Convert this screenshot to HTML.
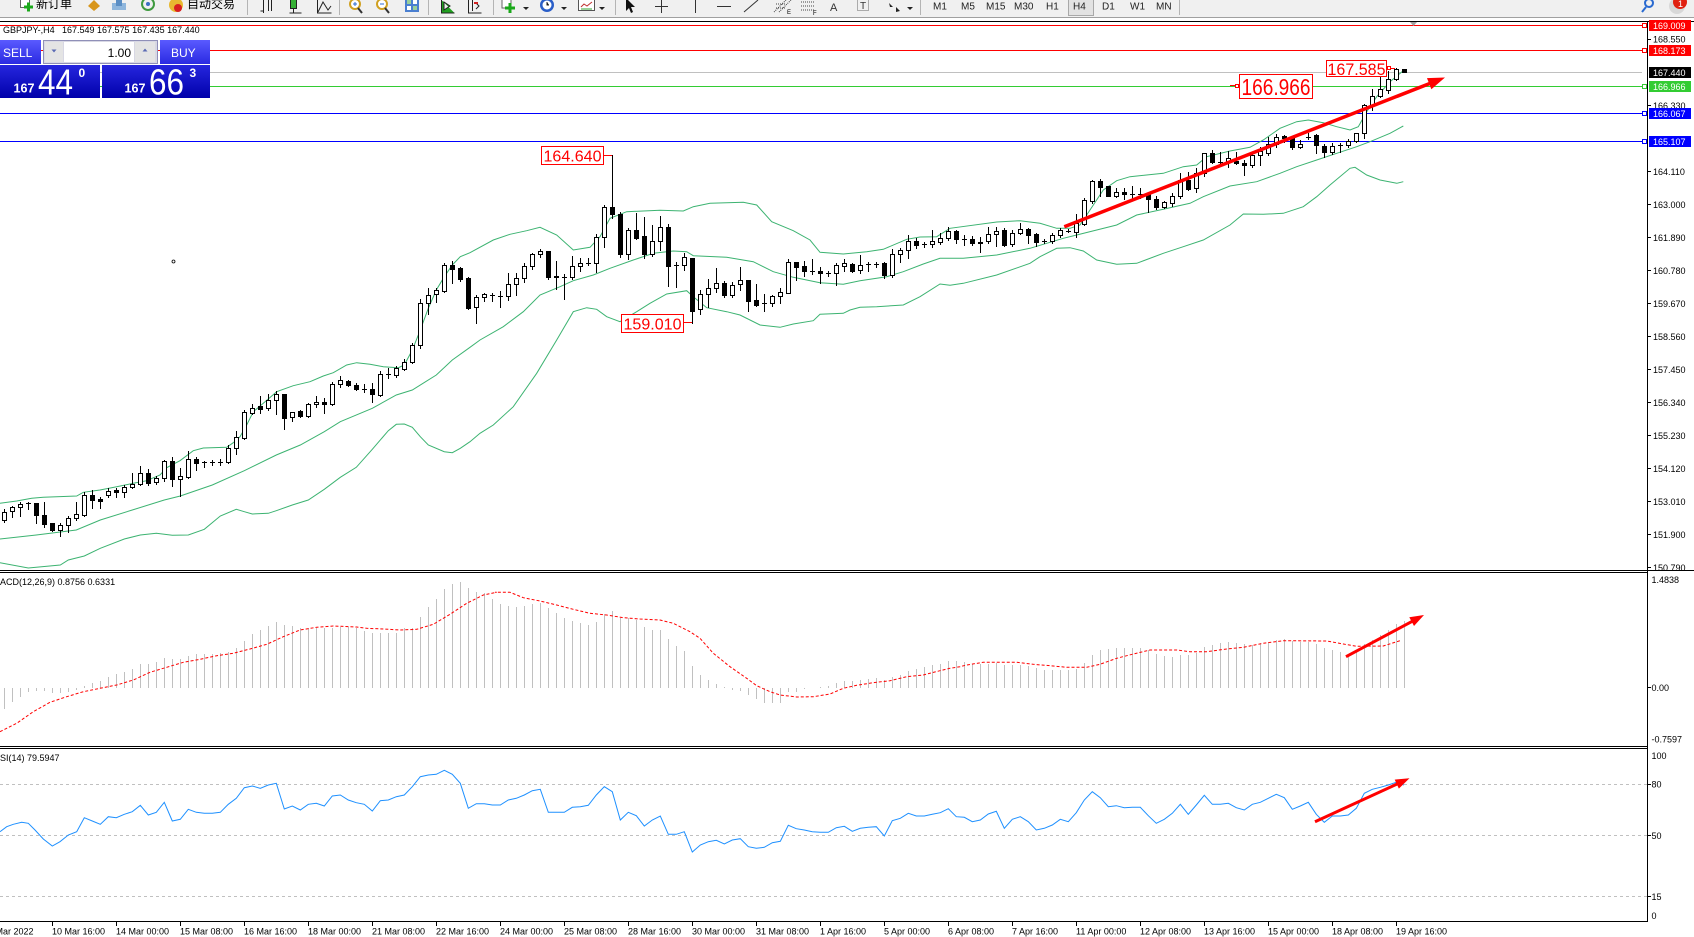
<!DOCTYPE html>
<html><head><meta charset="utf-8">
<style>
html,body{margin:0;padding:0;background:#fff;width:1694px;height:937px;overflow:hidden}
svg{display:block}
text{font-family:"Liberation Sans","Noto Sans CJK SC",sans-serif}
</style></head><body>
<svg id="c" width="1694" height="937" viewBox="0 0 1694 937" xmlns="http://www.w3.org/2000/svg">
<defs>
 <linearGradient id="gb" x1="0" y1="0" x2="0" y2="1"><stop offset="0" stop-color="#5a5aff"/><stop offset="1" stop-color="#2a2ae2"/></linearGradient>
 <linearGradient id="gp" x1="0" y1="0" x2="0" y2="1"><stop offset="0" stop-color="#2626de"/><stop offset="1" stop-color="#0000aa"/></linearGradient>
 <clipPath id="cm"><rect x="0" y="22" width="1647" height="548"/></clipPath>
 <clipPath id="cd"><rect x="0" y="573" width="1647" height="173"/></clipPath>
 <clipPath id="cr"><rect x="0" y="749" width="1647" height="172"/></clipPath>
</defs>
<rect x="0" y="0" width="1694" height="937" fill="#fff"/>

<!-- toolbar -->
<rect x="0" y="0" width="1694" height="17" fill="#f0f0f0"/>
<rect x="0" y="17" width="1694" height="1" fill="#a0a0a0"/>
<g stroke="#b4b4b4" stroke-width="1">
 <line x1="247.5" y1="0" x2="247.5" y2="15"/><line x1="339.5" y1="0" x2="339.5" y2="15"/>
 <line x1="428.5" y1="0" x2="428.5" y2="15"/><line x1="493.5" y1="0" x2="493.5" y2="15"/>
 <line x1="615.5" y1="0" x2="615.5" y2="15"/><line x1="920.5" y1="0" x2="920.5" y2="15"/>
 <line x1="1179.5" y1="0" x2="1179.5" y2="15"/>
</g>
<rect x="20.5" y="-3.5" width="9" height="11" fill="#fff" stroke="#666"/>
<path d="M24 7h9M28.5 2.5v9" stroke="#1aa81a" stroke-width="3"/>
<text x="36" y="8" font-size="12" fill="#000">新订单</text>
<path d="M88 6 l6 -6 l6 6 l-6 5z" fill="#d8961c"/>
<path d="M112 3 h14 v7 h-14z" fill="#8fb6dc"/><rect x="116" y="-2" width="6" height="8" fill="#5b8ec4"/>
<circle cx="148" cy="4" r="6" fill="none" stroke="#3f9a3f" stroke-width="2"/><circle cx="148" cy="4" r="2" fill="#3a6fc4"/>
<circle cx="176" cy="5" r="7" fill="#e8b830"/><circle cx="178" cy="8" r="4" fill="#d82020"/>
<text x="187" y="8" font-size="12" fill="#000">自动交易</text>
<g stroke="#222" stroke-width="1" fill="none">
 <path d="M263.5 0v13M268.5 0v11M271.5 0v11M260.5 11h3"/>
 <rect x="290.5" y="-2.5" width="6" height="11" fill="#35b035" stroke="#222"/><path d="M293.5 9v4M289.5 13h12"/>
 <path d="M318 12 l5 -10 l5 8 l3 -4"/><path d="M317.5 0v13h14"/>
</g>
<circle cx="355" cy="4" r="5" fill="#fff" stroke="#d0a020" stroke-width="2"/><path d="M358 8l4 5" stroke="#333" stroke-width="2"/><path d="M353 4h4M355 2v4" stroke="#2a6ad0"/>
<circle cx="382" cy="4" r="5" fill="#fff" stroke="#d0a020" stroke-width="2"/><path d="M385 8l4 5" stroke="#333" stroke-width="2"/><path d="M380 4h4" stroke="#2a6ad0"/>
<rect x="405" y="-2" width="14" height="14" fill="#4a7fd0"/><rect x="407" y="0" width="4" height="4" fill="#9ad09a"/><rect x="413" y="0" width="4" height="4" fill="#fff"/><rect x="407" y="6" width="4" height="4" fill="#fff"/><rect x="413" y="6" width="4" height="4" fill="#9ad09a"/>
<path d="M441.5 0v13h13M444 2l6 4l-6 4z" stroke="#222" fill="#20a020"/>
<path d="M468.5 0v13h13M472.5 0v11M476 3l3 3l-3 3" stroke="#222" fill="none"/><path d="M474 3h4" stroke="#d02020" stroke-width="2"/>
<rect x="502" y="-2" width="9" height="10" fill="#fff" stroke="#666"/><path d="M505 8h10M510 3v10" stroke="#1aa81a" stroke-width="3"/><path d="M523 7l3 3l3 -3z" fill="#222"/>
<circle cx="547" cy="5" r="7" fill="#2a5ec8"/><circle cx="547" cy="5" r="4.5" fill="#fff"/><path d="M547 2v3h2" stroke="#222"/><path d="M561 7l3 3l3 -3z" fill="#222"/>
<rect x="578.5" y="-2.5" width="16" height="13" fill="#fff" stroke="#555"/><path d="M581 7l3 -3l3 2l5 -4" stroke="#c03030" fill="none"/><path d="M581 9h11" stroke="#30a030"/><path d="M599 7l3 3l3 -3z" fill="#222"/>
<path d="M626 -2 v13 l3 -3 l2 5 l2 -1 l-2 -5 h4z" fill="#111"/>
<path d="M661.5 0v13M655 6.5h13" stroke="#333"/>
<path d="M695.5 0v13" stroke="#333"/>
<path d="M717 6.5h14" stroke="#333"/>
<path d="M744 12l14 -12" stroke="#333"/>
<path d="M774 12l12 -12M779 12l12 -12M776 4h10M776 8h10" stroke="#444" stroke-dasharray="1 1"/><text x="787" y="14" font-size="6">E</text>
<path d="M801 2h14M801 6h14M801 10h14" stroke="#444" stroke-dasharray="1 1"/><text x="813" y="15" font-size="6">F</text>
<text x="830" y="11" font-size="11" fill="#333">A</text>
<rect x="857.5" y="-1.5" width="11" height="12" fill="none" stroke="#666" stroke-dasharray="1 1"/><text x="860" y="9" font-size="10" fill="#333">T</text>
<path d="M889 3l4 4l-3 0zM896 7l4 4l-4 1z" fill="#222"/><path d="M907 7l3 3l3 -3z" fill="#222"/>
<g font-size="10" fill="#222">
 <rect x="1068.5" y="-0.5" width="25" height="16" fill="#e2e2e2" stroke="#a8a8a8"/>
 <text x="933" y="9.5">M1</text><text x="961" y="9.5">M5</text><text x="986" y="9.5">M15</text><text x="1014" y="9.5">M30</text>
 <text x="1046" y="9.5">H1</text><text x="1073" y="9.5">H4</text><text x="1102" y="9.5">D1</text><text x="1130" y="9.5">W1</text><text x="1156" y="9.5">MN</text>
</g>
<circle cx="1649" cy="3" r="4" fill="none" stroke="#2a6ad0" stroke-width="2"/><path d="M1646 7l-4 5" stroke="#2a6ad0" stroke-width="2"/>
<circle cx="1677" cy="6" r="8" fill="#d8d8d8"/><circle cx="1680" cy="2" r="7" fill="#e02010"/><text x="1678" y="7" font-size="9" fill="#fff">1</text>

<!-- frames -->
<rect x="0" y="21" width="1694" height="1" fill="#000"/>

<!-- main chart -->
<g clip-path="url(#cm)">
 <rect x="0" y="25" width="1642" height="1" fill="#ff0000"/>
 <rect x="0" y="50" width="1642" height="1" fill="#ff0000"/>
 <rect x="0" y="72" width="1642" height="1" fill="#c0c0c0"/>
 <rect x="0" y="86" width="1642" height="1" fill="#33cc33"/>
 <rect x="0" y="113" width="1642" height="1" fill="#0000ff"/>
 <rect x="0" y="141" width="1642" height="1" fill="#0000ff"/>
 <g fill="#fff">
  <rect x="1642.5" y="23.5" width="4" height="4" stroke="#ff0000"/>
  <rect x="1642.5" y="48.5" width="4" height="4" stroke="#ff0000"/>
  <rect x="1642.5" y="84.5" width="4" height="4" stroke="#33cc33"/>
  <rect x="1642.5" y="111.5" width="4" height="4" stroke="#0000ff"/>
  <rect x="1642.5" y="139.5" width="4" height="4" stroke="#0000ff"/>
 </g>
 <path d="M1410 22h7l-3.5 4z" fill="#a0a0a0"/>
 <g id="bands" fill="none" stroke="#3cb371" stroke-width="1"></g>
 <g id="cand" shape-rendering="crispEdges"></g>
 <circle cx="173.5" cy="261.5" r="1.5" fill="#fff" stroke="#000" stroke-width="0.8"/>
 <!-- annotations -->
 <g stroke="#ff0000" fill="none">
  <path d="M603 155.5h9"/><path d="M683 322.5h9"/>
  <path d="M1230 85.5h9"/><rect x="1235.5" y="84.5" width="3" height="3" fill="#fff"/>
  <path d="M1387 68.5h8"/><rect x="1387.5" y="66.5" width="3" height="3" fill="#fff"/>
 </g>
 <rect x="541.5" y="146.5" width="62" height="18" fill="#fff" stroke="#ff0000"/>
 <text x="543.5" y="161.5" font-size="16" fill="#ff0000" textLength="58" lengthAdjust="spacingAndGlyphs">164.640</text>
 <rect x="621.5" y="314.5" width="62" height="18" fill="#fff" stroke="#ff0000"/>
 <text x="623.5" y="329.5" font-size="16" fill="#ff0000" textLength="58" lengthAdjust="spacingAndGlyphs">159.010</text>
 <rect x="1239.5" y="74.5" width="73" height="24" fill="#fff" stroke="#ff0000"/>
 <text x="1241.5" y="95" font-size="23" fill="#ff0000" textLength="69" lengthAdjust="spacingAndGlyphs">166.966</text>
 <rect x="1326.5" y="60.5" width="60" height="16" fill="#fff" stroke="#ff0000"/>
 <text x="1327.5" y="75" font-size="17" fill="#ff0000" textLength="58" lengthAdjust="spacingAndGlyphs">167.585</text>
 <g id="arr1"></g>
</g>

<!-- one click panel -->
<g>
 <rect x="0" y="40" width="41" height="24" fill="url(#gb)"/>
 <rect x="43.5" y="40.5" width="114" height="23" fill="#d8d8e4" stroke="#9090b8"/>
 <rect x="64" y="42" width="70" height="20" fill="#fff"/>
 <rect x="45" y="42" width="18" height="20" fill="#e4e4e4"/>
 <rect x="135" y="42" width="20" height="20" fill="#e4e4e4"/>
 <path d="M51.5 49.5h5l-2.5 3z" fill="#5a6ab4"/><path d="M142.5 51.5h5l-2.5 -3z" fill="#5a6ab4"/>
 <rect x="160" y="40" width="50" height="24" fill="url(#gb)"/>
 <rect x="0" y="65" width="100" height="33" fill="url(#gp)"/>
 <rect x="102" y="65" width="108" height="33" fill="url(#gp)"/>
 <text x="3" y="57" font-size="12" fill="#fff">SELL</text>
 <text x="171" y="57" font-size="12" fill="#fff">BUY</text>
 <text x="131" y="57" font-size="12" fill="#000" text-anchor="end">1.00</text>
 <text x="13.5" y="92.5" font-size="13" font-weight="bold" fill="#fff" textLength="21" lengthAdjust="spacingAndGlyphs">167</text>
 <text x="38" y="94.3" font-size="36" fill="#fff" textLength="35" lengthAdjust="spacingAndGlyphs">44</text>
 <text x="78.5" y="77" font-size="12" font-weight="bold" fill="#fff">0</text>
 <text x="124.5" y="92.5" font-size="13" font-weight="bold" fill="#fff" textLength="21" lengthAdjust="spacingAndGlyphs">167</text>
 <text x="149" y="94.3" font-size="36" fill="#fff" textLength="35" lengthAdjust="spacingAndGlyphs">66</text>
 <text x="189.5" y="77" font-size="12" font-weight="bold" fill="#fff">3</text>
</g>
<text x="3" y="33" font-size="9" fill="#000">GBPJPY-,H4</text>
<text x="62" y="33" font-size="9" fill="#000">167.549 167.575 167.435 167.440</text>

<!-- panel frames -->
<rect x="0" y="570" width="1694" height="1" fill="#000"/>
<rect x="0" y="572" width="1647" height="1" fill="#000"/>
<rect x="0" y="746" width="1647" height="1" fill="#000"/>
<rect x="0" y="748" width="1647" height="1" fill="#000"/>
<rect x="0" y="921" width="1648" height="1" fill="#000"/>
<rect x="1647" y="21" width="1" height="901" fill="#000"/>

<!-- MACD -->
<g clip-path="url(#cd)">
 <g id="hist" shape-rendering="crispEdges"></g>
 <g id="sig" fill="none" stroke="#ff0000" stroke-width="1" stroke-dasharray="3 2"></g>
 <g id="arr2"></g>
</g>
<text x="-7.5" y="585" font-size="9" fill="#000">MACD(12,26,9) 0.8756 0.6331</text>

<!-- RSI -->
<g clip-path="url(#cr)">
 <g stroke="#c0c0c0" stroke-dasharray="3 3">
  <line x1="0" y1="784.5" x2="1647" y2="784.5"/>
  <line x1="0" y1="835.5" x2="1647" y2="835.5"/>
  <line x1="0" y1="896.5" x2="1647" y2="896.5"/>
 </g>
 <g id="rsi" fill="none" stroke="#1e90ff" stroke-width="1"></g>
 <g id="arr3"></g>
</g>
<text x="-6.5" y="761" font-size="9" fill="#000">RSI(14) 79.5947</text>

<!-- price axis -->
<g stroke="#000" shape-rendering="crispEdges">
 <path d="M1647 39.5h4M1647 105.5h4M1647 171.5h4M1647 204.5h4M1647 237.5h4M1647 270.5h4M1647 303.5h4M1647 336.5h4M1647 369.5h4M1647 402.5h4M1647 435.5h4M1647 468.5h4M1647 501.5h4M1647 534.5h4M1647 567.5h4"/>
 <path d="M1647 687.5h4M1647 784.5h4M1647 835.5h4M1647 896.5h4"/>
</g>
<g font-size="9" fill="#000">
 <text x="1653" y="42.5">168.550</text>
 <text x="1653" y="109">166.330</text>
 <text x="1653" y="175">164.110</text>
 <text x="1653" y="208">163.000</text>
 <text x="1653" y="241">161.890</text>
 <text x="1653" y="274">160.780</text>
 <text x="1653" y="307">159.670</text>
 <text x="1653" y="340">158.560</text>
 <text x="1653" y="373">157.450</text>
 <text x="1653" y="406">156.340</text>
 <text x="1653" y="439">155.230</text>
 <text x="1653" y="472">154.120</text>
 <text x="1653" y="505">153.010</text>
 <text x="1653" y="538">151.900</text>
 <text x="1653" y="571">150.790</text>
 <text x="1651.5" y="583">1.4838</text>
 <text x="1651.5" y="691">0.00</text>
 <text x="1651.5" y="742.5">-0.7597</text>
 <text x="1651.5" y="759">100</text>
 <text x="1651.5" y="787.5">80</text>
 <text x="1651.5" y="839">50</text>
 <text x="1651.5" y="900">15</text>
 <text x="1651.5" y="919">0</text>
</g>
<rect x="1649" y="20" width="42" height="11" fill="#ff0000"/>
<rect x="1649" y="45" width="42" height="11" fill="#ff0000"/>
<rect x="1649" y="67" width="42" height="11" fill="#000"/>
<rect x="1649" y="81" width="42" height="11" fill="#33cc33"/>
<rect x="1649" y="108" width="42" height="11" fill="#0000ff"/>
<rect x="1649" y="136" width="42" height="11" fill="#0000ff"/>
<g font-size="9" fill="#fff">
 <text x="1653" y="29">169.009</text>
 <text x="1653" y="54">168.173</text>
 <text x="1653" y="76">167.440</text>
 <text x="1653" y="90">166.966</text>
 <text x="1653" y="117">166.067</text>
 <text x="1653" y="145">165.107</text>
</g>

<!-- time axis -->
<g stroke="#000" shape-rendering="crispEdges">
 <path d="M52.5 922v4M116.5 922v4M180.5 922v4M244.5 922v4M308.5 922v4M372.5 922v4M436.5 922v4M500.5 922v4M564.5 922v4M628.5 922v4M692.5 922v4M756.5 922v4M820.5 922v4M884.5 922v4M948.5 922v4M1012.5 922v4M1076.5 922v4M1140.5 922v4M1204.5 922v4M1268.5 922v4M1332.5 922v4M1396.5 922v4"/>
</g>
<g font-size="9" fill="#000">
 <text x="-12" y="934.3">9 Mar 2022</text>
 <text x="52" y="934.3">10 Mar 16:00</text>
 <text x="116" y="934.3">14 Mar 00:00</text>
 <text x="180" y="934.3">15 Mar 08:00</text>
 <text x="244" y="934.3">16 Mar 16:00</text>
 <text x="308" y="934.3">18 Mar 00:00</text>
 <text x="372" y="934.3">21 Mar 08:00</text>
 <text x="436" y="934.3">22 Mar 16:00</text>
 <text x="500" y="934.3">24 Mar 00:00</text>
 <text x="564" y="934.3">25 Mar 08:00</text>
 <text x="628" y="934.3">28 Mar 16:00</text>
 <text x="692" y="934.3">30 Mar 00:00</text>
 <text x="756" y="934.3">31 Mar 08:00</text>
 <text x="820" y="934.3">1 Apr 16:00</text>
 <text x="884" y="934.3">5 Apr 00:00</text>
 <text x="948" y="934.3">6 Apr 08:00</text>
 <text x="1012" y="934.3">7 Apr 16:00</text>
 <text x="1076" y="934.3">11 Apr 00:00</text>
 <text x="1140" y="934.3">12 Apr 08:00</text>
 <text x="1204" y="934.3">13 Apr 16:00</text>
 <text x="1268" y="934.3">15 Apr 00:00</text>
 <text x="1332" y="934.3">18 Apr 08:00</text>
 <text x="1396" y="934.3">19 Apr 16:00</text>
</g>
</svg>
<script>
(function(){
var NS='http://www.w3.org/2000/svg';
function el(tag,a,p){var e=document.createElementNS(NS,tag);for(var k in a)e.setAttribute(k,a[k]);p.appendChild(e);return e;}
function R(p,x,y,w,h,f){el('rect',{x:x,y:y,width:w,height:h,fill:f},p);}
var G=function(id){return document.getElementById(id);};
var segs=[
{y0:240,s:0,d:[
['u',808,815,840,847],['u',797,802,814,830],['u',785,791,802,827],['x',785,790,790,806],['d',790,790,824,848],
['d',786,826,851,862],['d',850,850,869,874],['u',850,856,870,887],['u',828,834,856,875],['u',786,823,835,841],
['u',757,766,825,828],['d',751,766,779,803],['d',770,776,784,803],['u',744,754,766,770],['d',743,750,757,770],
['u',735,741,756,770],['u',699,733,742,744],['u',679,700,733,735],['d',686,700,728,735],['u',708,714,727,731],
['u',659,663,715,722],['d',652,663,718,737],['u',684,709,718,768],['u',634,658,710,714],['d',651,657,668,689],
['x',663,665,665,680],['x',660,667,667,675],['x',656,666,666,676],['u',615,625,667,670],['u',573,592,625,641],
['u',511,517,594,596],['u',493,503,518,522],['d',467,498,507,519],['u',462,481,505,509],['u',454,463,481,522],
['d',463,463,533,567],['u',515,515,532,543],['d',510,513,527,532],['u',490,493,527,530],['u',467,487,493,500],
['d',473,486,493,519],['u',425,433,493,495],['u',408,421,433,440],['d',420,422,434,437],['d',429,434,446,450],
['x',433,447,447,455],['d',430,448,463,485],['u',393,403,464,467],['x',385,402,402,415],['u',379,384,404,410],
['u',357,367,388,390],['u',310,314,367,369],['u',178,189,314,323],['u',145,164,190,222],['u',145,151,163,186],
['u',70,76,152,155],['d',62,75,86,128],['d',80,85,116,122],['d',110,115,204,207]]},
{y0:140,s:59,d:[
['u',465,472,502,548],['u',458,462,470,483],['x',460,464,464,482],['x',452,467,467,500],['u',400,433,468,480],
['u',398,414,433,465],['u',370,378,414,425],['u',338,343,379,386],['u',327,333,343,352],['d',333,333,410,418],
['d',363,408,412,448],['x',403,411,411,476],['u',349,379,412,418],['u',355,369,379,392],['x',355,368,368,375],
['u',283,291,368,395],['u',195,202,292,320],['d',46,201,222,235],['d',215,222,342,350],['u',265,270,342,356],
['d',219,270,293,297],['d',231,289,343,353],['u',256,304,343,347],['u',229,262,304,329],['d',252,262,377,437],
['x',365,375,375,440],['u',340,352,376,390],['d',355,355,512,548],['u',450,463,508,522],['u',418,445,463,500],
['u',383,430,445,455],['d',424,428,465,470],['u',425,436,465,470],['u',382,421,433,449],['d',421,421,483,512],
['d',433,481,494,497],['x',462,490,490,512],['u',465,467,490,497],['u',445,457,469,488],['u',356,367,458,460],
['d',365,367,380,420],['d',362,378,392,407],['x',358,393,393,402],['d',382,393,400,430],['x',393,399,399,407],
['u',369,376,400,436],['u',356,370,377,392],['d',370,372,392,396],['u',345,376,391,400],['x',367,373,373,393],
['x',366,372,372,380],['d',365,369,404,415],['u',327,343,405,410],['u',325,331,342,367],['u',286,303,331,353],
['d',293,303,314,325],['x',306,311,311,322],['u',270,304,311,320]]},
{y0:50,s:117,d:[
['u',550,565,575,583],['u',532,543,565,570],['d',540,543,568,580],['x',555,567,567,585],['d',558,568,580,584],
['u',562,575,580,606],['u',530,553,572,580],['u',530,542,552,588],['d',535,540,584,587],['u',540,549,583,587],
['u',520,538,549,552],['d',535,537,555,580],['d',550,553,575,588],['x',568,573,573,578],['u',550,556,572,578],
['u',533,540,556,562],['x',538,542,542,546],['u',492,520,545,560],['u',445,451,521,524],['u',390,394,452,460],
['d',386,394,410,437],['d',407,409,437,437],['u',415,426,437,440],['d',414,427,431,447],['x',408,432,432,445],
['x',413,431,431,444],['d',427,430,447,485],['d',437,448,470,477],['u',453,457,470,473],['u',428,437,458,467],
['u',370,390,437,445],['d',365,390,416,420],['u',355,368,413,427],['u',308,310,369,377],['d',300,310,335,340],
['x',305,335,335,340],['u',302,325,335,352],['d',305,333,340,342],['d',330,340,345,375],['u',310,316,346,350],
['u',290,302,316,345],['u',262,282,310,315],['u',252,260,283,292],['d',256,259,265,275],['d',258,265,292,296],
['u',271,281,291,293],['x',250,260,260,268],['d',252,256,285,308],['d',282,287,307,320],['u',280,287,307,312],
['x',280,286,286,305],['u',266,273,285,292],['u',248,250,272,276],['u',162,166,250,263],['u',117,137,166,180],
['u',70,118,137,140],['u',62,88,120,128],['u',53,58,88,90],['d',57,58,66,67]]}
];
var cg=G('cand');
segs.forEach(function(sg){
 sg.d.forEach(function(c,k){
  var i=sg.s+k,px=4+8*i;
  var f=function(v){return Math.round(sg.y0+v/3);};
  var hi=f(c[1]),bt=f(c[2]),bb=f(c[3]),lo=f(c[4]);
  R(cg,px,hi,1,Math.max(1,lo-hi+1),'#000');
  if(c[0]==='u'){R(cg,px-2,bt,5,Math.max(1,bb-bt+1),'#000');if(bb-bt-1>0)R(cg,px-1,bt+1,3,bb-bt-1,'#fff');}
  else if(c[0]==='d'){R(cg,px-2,bt,5,Math.max(1,bb-bt+1),'#000');}
  else{R(cg,px-2,bt,5,1,'#000');}
 });
});
function poly(parent,parts,extra){
 var pts=[];
 parts.forEach(function(p){p.p.forEach(function(q){pts.push((p.x0+q[0]/3).toFixed(1)+','+(p.y0+q[1]/3).toFixed(1));});});
 var a={points:pts.join(' ')};if(extra)for(var k in extra)a[k]=extra[k];
 el('polyline',a,parent);
}
var bg=G('bands');
poly(bg,[
{x0:0,y0:240,p:[[0,790],[50,783],[95,775],[130,772],[230,768],[250,757],[300,750],[350,740],[400,730],[440,722],[480,705],[500,683],[540,662],[580,632],[610,624],[680,622],[700,608],[720,590],[740,555],[760,515],[790,490],[830,455],[880,437],[930,425],[970,408],[1000,398],[1040,375],[1070,368],[1110,373],[1150,380],[1195,383],[1213,375],[1237,330],[1261,270],[1285,205],[1309,150],[1333,110],[1357,75],[1381,50],[1410,38]]},
{x0:460,y0:140,p:[[30,338],[100,300],[150,283],[200,272],[240,262],[290,285],[340,330],[390,322],[420,290],[450,235],[500,215],[600,211],[670,213],[700,200],[750,190],[850,187],[890,195],[935,245],[1000,272],[1050,300],[1080,337],[1150,342],[1220,335],[1270,328],[1340,298],[1380,291],[1430,290]]},
{x0:930,y0:50,p:[[60,535],[200,516],[270,512],[330,520],[380,535],[420,535],[450,525],[480,480],[520,420],[560,392],[600,380],[700,370],[760,350],[800,345],[830,320],[900,303],[960,292],[1000,270],[1050,235],[1100,215],[1135,210],[1180,218],[1220,230],[1260,240],[1285,230],[1310,185],[1340,140],[1380,95],[1420,62]]}
]);
poly(bg,[
{x0:0,y0:240,p:[[0,897],[109,885],[229,870],[301,840],[397,810],[493,780],[541,768],[637,735],[733,692],[829,645],[901,615],[973,575],[1021,545],[1117,505],[1189,465],[1237,450],[1309,405],[1357,360],[1410,322]]},
{x0:460,y0:140,p:[[60,600],[130,560],[190,515],[240,465],[300,440],[340,422],[400,405],[450,385],[520,360],[580,340],[640,333],[680,335],[700,347],[800,352],[880,365],[940,395],[1000,412],[1080,428],[1150,433],[1200,422],[1280,410],[1330,395],[1390,372],[1440,355]]},
{x0:930,y0:50,p:[[100,625],[200,615],[300,595],[400,565],[440,555],[500,540],[560,525],[620,495],[700,478],[780,460],[820,440],[900,408],[980,395],[1050,370],[1100,350],[1160,330],[1220,310],[1280,290],[1320,275],[1380,250],[1420,228]]}
]);
poly(bg,[
{x0:0,y0:240,p:[[0,968],[85,984],[181,975],[205,960],[253,948],[301,925],[373,897],[421,885],[469,880],[517,886],[565,885],[613,868],[661,828],[709,808],[733,815],[757,822],[805,820],[829,812],[877,795],[925,780],[973,748],[1021,712],[1069,682],[1117,628],[1165,572],[1189,553],[1213,552],[1237,562],[1261,590],[1285,615],[1333,635],[1357,638],[1381,625],[1410,605]]},
{x0:460,y0:140,p:[[60,880],[100,855],[160,800],[230,700],[290,600],[340,515],[380,503],[410,508],[440,530],[480,545],[530,515],[570,490],[620,462],[680,452],[700,470],[740,503],[800,515],[840,525],[900,555],[960,562],[1000,552],[1060,542],[1080,523],[1150,520],[1170,510],[1200,502],[1250,500],[1330,495],[1380,470],[1440,432]]},
{x0:930,y0:50,p:[[60,706],[100,700],[200,675],[300,640],[330,620],[380,595],[420,593],[460,603],[500,630],[560,643],[620,640],[700,610],[760,590],[820,570],[900,525],[940,492],[1000,493],[1060,490],[1120,470],[1160,440],[1200,405],[1260,355],[1275,352],[1310,375],[1350,390],[1400,400],[1420,395]]}
]);
// MACD histogram
var hg=G('hist'),Z=688;
var H=[
{y0:565,s:0,v:[432,410,395,381,378,378,383,385,380,375,362,355,347,336,326,320,312,298,297,291,278,283,283,272,266,266,266,265,262,248,228,207,195,183,171,180,183,190,190,190,190,190,185,185,190,197,205,203,203,203,190,190,155,125,103,73,57,50,68,80,85,103]},
{y0:570,s:62,v:[101,108,110,108,101,98,114,128,144,153,158,165,156,131,123,143,143,150,171,180,180,207,228,243,288,315,330,342,350,360,362,374,386,398,398,398,365,365,357,353,350,348,339,333,333,330,326,323,331,321,315,302,297,291,285,282,273]},
{y0:570,s:119,v:[273,276,283,283,283,280,285,285,285,288,294,300,300,300,300,296,280,255,240,237,234,234,234,234,240,252,258,262,255,255,248,232,225,219,216,219,221,224,220,216,210,207,213,215,215,222,234,240,246,255,240,222,210,195,180,162,152]}
];
H.forEach(function(h){h.v.forEach(function(v,k){var px=4+8*(h.s+k),y=Math.round(h.y0+v/3);
 if(y<Z)R(hg,px,y,1,Z-y,'#c0c0c0');else if(y>Z)R(hg,px,Z,1,y-Z,'#c0c0c0');});});
poly(G('sig'),[
{x0:0,y0:565,p:[[0,500],[50,475],[100,440],[150,412],[200,395],[250,380],[300,370],[350,360],[400,345],[450,322],[500,307],[550,292],[600,283],[650,272],[700,265],[750,252],[800,238],[850,215],[900,195],[950,187],[1000,183],[1070,186],[1100,190],[1150,192],[1200,195],[1250,193],[1300,178],[1350,148],[1400,115],[1450,90],[1490,82]]},
{x0:490,y0:570,p:[[15,67],[60,67],[100,83],[150,93],[200,105],[250,118],[300,130],[350,135],[400,143],[450,147],[510,150],[550,160],[600,185],[630,205],[670,250],[720,290],[770,325],[800,347],[840,365],[870,375],[920,381],[970,380],[1020,372],[1060,355],[1100,346],[1150,338],[1200,332],[1250,320],[1300,315],[1350,302],[1380,295]]},
{x0:950,y0:570,p:[[30,290],[50,285],[100,277],[200,277],[250,283],[300,287],[350,292],[410,292],[450,283],[500,265],[550,252],[600,240],[680,240],[720,245],[770,245],[830,237],[880,232],[940,220],[1000,212],[1130,213],[1180,222],[1220,229],[1300,228],[1350,212]]}
]);
poly(G('rsi'),[
{x0:0,y0:565,p:[[0,800],[20,785],[40,778],[65,772],[85,775],[105,795],[130,822],[157,843],[180,830],[205,810],[230,800],[253,758],[277,768],[301,778],[325,755],[349,758],[373,748],[397,740],[421,721],[445,750],[469,742],[493,712],[517,768],[541,763],[565,733],[589,742],[613,745],[637,745],[661,742],[685,718],[709,700],[733,668],[757,663],[781,670],[805,660],[829,655],[853,732],[877,723],[901,735],[925,718],[949,715],[973,723],[997,693],[1021,690],[1045,705],[1069,713],[1093,718],[1117,738],[1141,707],[1165,705],[1189,695],[1213,690],[1237,665],[1261,635],[1285,630],[1309,628],[1333,616],[1357,628],[1381,655],[1405,730],[1429,716],[1453,716],[1477,720]]},
{x0:490,y0:570,p:[[31,705],[55,690],[79,685],[103,675],[127,662],[151,658],[175,727],[199,727],[223,727],[247,712],[271,710],[295,706],[319,675],[343,650],[367,665],[391,750],[415,727],[439,737],[463,768],[487,750],[511,738],[535,793],[559,793],[583,785],[607,846],[631,825],[655,815],[679,811],[703,822],[727,810],[751,806],[775,830],[799,835],[823,832],[847,818],[871,814],[895,766],[919,776],[943,780],[967,785],[991,787],[1015,787],[1039,773],[1063,769],[1087,784],[1111,775],[1135,772],[1159,770],[1183,798],[1207,752],[1231,745],[1255,730],[1279,738],[1303,738],[1327,733],[1351,728],[1375,716],[1399,740]]},
{x0:950,y0:570,p:[[43,742],[67,755],[91,750],[115,732],[139,724],[163,775],[187,748],[211,740],[235,755],[259,780],[283,775],[307,765],[331,748],[355,755],[379,728],[403,690],[427,665],[451,683],[475,710],[499,707],[523,713],[547,712],[571,712],[595,737],[619,760],[643,748],[667,730],[691,703],[715,733],[739,705],[763,676],[787,703],[811,703],[835,700],[859,713],[883,720],[907,703],[931,697],[955,685],[979,673],[1003,683],[1027,718],[1051,708],[1075,697],[1099,733],[1123,757],[1147,738],[1171,738],[1195,735],[1219,715],[1243,670],[1267,658],[1291,652],[1315,645],[1339,637],[1362,645]]}
]);
function arrow(p,x1,y1,x2,y2,w,hl,hw){
 var dx=x2-x1,dy=y2-y1,L=Math.sqrt(dx*dx+dy*dy),ux=dx/L,uy=dy/L;
 var bx=x2-ux*hl,by=y2-uy*hl,nx=-uy,ny=ux;
 el('line',{x1:x1,y1:y1,x2:bx+ux*2,y2:by+uy*2,stroke:'#ff0000','stroke-width':w},p);
 el('polygon',{points:x2+','+y2+' '+(bx+nx*hw/2)+','+(by+ny*hw/2)+' '+(bx-nx*hw/2)+','+(by-ny*hw/2),fill:'#ff0000'},p);
}
arrow(G('arr1'),1064.3,226.7,1445,77.5,3.5,17,12);
arrow(G('arr2'),1346,656.7,1424,615,3,14,10);
arrow(G('arr3'),1315,821.7,1409.5,778.3,3,14,10);
})();
</script>
</body></html>
